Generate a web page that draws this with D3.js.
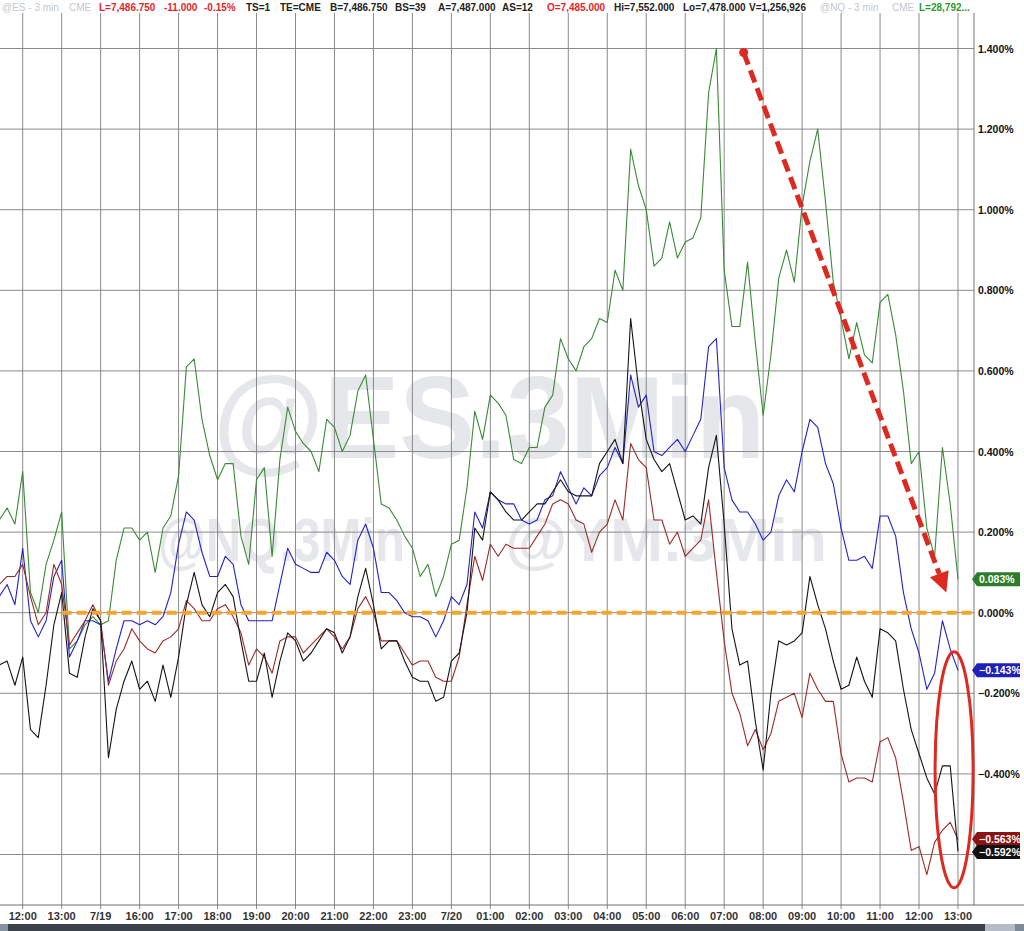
<!DOCTYPE html>
<html lang="en">
<head>
<meta charset="UTF-8">
<title>@ES / @NQ 3 min</title>
<script src="https://d3js.org/d3.v7.min.js"></script>
<style>
    body {
        margin: 0;
        background: #fff;
        font-family: Arial, "Liberation Sans", sans-serif;
    }
    svg { display: block; }
</style>
</head>
<body>

<div id="container"></div>

<script>
// hour ticks along the bottom (equally spaced, session gap collapsed)
const tickLabels = ['12:00','13:00','7/19','16:00','17:00','18:00','19:00','20:00','21:00','22:00',
    '23:00','7/20','01:00','02:00','03:00','04:00','05:00','06:00','07:00','08:00','09:00',
    '10:00','11:00','12:00','13:00'];

// percent gridlines on the right
const pctTicks = [1.4, 1.2, 1.0, 0.8, 0.6, 0.4, 0.2, 0, -0.2, -0.4, -0.6];

// readings every 0.2 h, starting 0.6 h before the first tick
const tStart = -0.6, tStep = 0.2;

const greenVals = [0.23, 0.26, 0.22,
    0.35, 0.05, 0.00, 0.12, 0.18,
    0.25, -0.09, -0.07, -0.03, -0.01,
    -0.03, -0.02, 0.13, 0.21, 0.21,
    0.18, 0.20, 0.10, 0.21, 0.24,
    0.34, 0.61, 0.63, 0.48, 0.39,
    0.33, 0.37, 0.37, 0.19, 0.12,
    0.33, 0.36, 0.14, 0.38, 0.51,
    0.45, 0.42, 0.40, 0.35, 0.48,
    0.46, 0.40, 0.44, 0.55, 0.59,
    0.43, 0.27, 0.26, 0.23, 0.19,
    0.16, 0.09, 0.12, 0.04, 0.09,
    0.17, 0.18, 0.31, 0.50, 0.43,
    0.54, 0.52, 0.49, 0.38, 0.37,
    0.41, 0.41, 0.51, 0.54, 0.68,
    0.63, 0.60, 0.66, 0.68, 0.73,
    0.72, 0.85, 0.80, 1.15, 1.06,
    1.00, 0.86, 0.88, 0.97, 0.88,
    0.92, 0.93, 0.98, 1.29, 1.40,
    0.85, 0.71, 0.71, 0.87, 0.67,
    0.49, 0.64, 0.83, 0.90, 0.82,
    1.01, 1.12, 1.20, 1.02, 0.82,
    0.73, 0.63, 0.72, 0.64, 0.62,
    0.77, 0.79, 0.69, 0.55, 0.37,
    0.40, 0.21, 0.14, 0.41, 0.27,
    0.083];

const blueVals = [0.04, 0.07, 0.02,
    0.16, -0.02, -0.06, -0.02, 0.09,
    0.13, -0.11, -0.07, -0.02, -0.02,
    -0.03, -0.17, -0.09, -0.02, -0.02,
    -0.03, -0.02, -0.03, -0.01, 0.05,
    0.17, 0.25, 0.23, 0.15, 0.09,
    0.09, 0.14, 0.12, 0.02, -0.02,
    -0.02, -0.02, -0.02, 0.07, 0.16,
    0.12, 0.11, 0.10, 0.10, 0.15,
    0.13, 0.09, 0.07, 0.18, 0.22,
    0.16, 0.05, 0.05, 0.03, 0.00,
    -0.01, -0.01, -0.02, -0.06, -0.02,
    0.04, 0.02, 0.07, 0.25, 0.21,
    0.30, 0.28, 0.27, 0.27, 0.23,
    0.22, 0.23, 0.28, 0.29, 0.35,
    0.31, 0.27, 0.31, 0.29, 0.34,
    0.36, 0.41, 0.37, 0.59, 0.51,
    0.54, 0.40, 0.39, 0.41, 0.43,
    0.40, 0.44, 0.48, 0.66, 0.68,
    0.36, 0.28, 0.25, 0.25, 0.22,
    0.18, 0.20, 0.29, 0.33, 0.30,
    0.40, 0.48, 0.46, 0.37, 0.32,
    0.21, 0.13, 0.13, 0.14, 0.11,
    0.24, 0.24, 0.19, 0.05, -0.04,
    -0.10, -0.19, -0.15, -0.02, -0.09,
    -0.143];

const redVals = [0.07, 0.09, 0.09,
    0.12, 0.04, -0.03, 0.00, 0.12,
    0.07, -0.08, -0.05, -0.02, 0.02,
    -0.02, -0.18, -0.12, -0.09, -0.04,
    -0.07, -0.09, -0.10, -0.07, -0.06,
    -0.04, 0.03, 0.01, -0.02, -0.02,
    0.01, 0.02, -0.01, -0.05, -0.13,
    -0.09, -0.11, -0.15, -0.07, -0.06,
    -0.06, -0.10, -0.08, -0.06, -0.04,
    -0.06, -0.09, -0.06, 0.01, 0.04,
    0.00, -0.07, -0.07, -0.07, -0.10,
    -0.13, -0.12, -0.12, -0.16, -0.17,
    -0.17, -0.11, 0.02, 0.14, 0.08,
    0.17, 0.14, 0.17, 0.16, 0.16,
    0.16, 0.19, 0.22, 0.27, 0.28,
    0.27, 0.23, 0.22, 0.15, 0.20,
    0.22, 0.28, 0.23, 0.42, 0.38,
    0.36, 0.23, 0.23, 0.17, 0.20,
    0.14, 0.16, 0.18, 0.28, 0.10,
    -0.07, -0.20, -0.25, -0.33, -0.29,
    -0.34, -0.30, -0.22, -0.21, -0.20,
    -0.26, -0.15, -0.19, -0.22, -0.22,
    -0.35, -0.42, -0.41, -0.41, -0.42,
    -0.32, -0.31, -0.36, -0.47, -0.59,
    -0.58, -0.65, -0.57, -0.54, -0.52,
    -0.563];

const blackVals = [-0.13, -0.12, -0.18,
    -0.11, -0.29, -0.31, -0.18, -0.03,
    0.05, -0.15, -0.16, -0.06, 0.01,
    -0.02, -0.36, -0.24, -0.17, -0.12,
    -0.19, -0.17, -0.22, -0.13, -0.21,
    -0.11, 0.02, 0.10, 0.02, -0.01,
    0.05, 0.07, 0.04, -0.07, -0.17,
    -0.17, -0.10, -0.21, -0.12, -0.05,
    -0.07, -0.12, -0.10, -0.07, -0.04,
    -0.05, -0.10, -0.06, 0.04, 0.11,
    0.02, -0.09, -0.07, -0.07, -0.12,
    -0.16, -0.17, -0.17, -0.22, -0.21,
    -0.12, -0.10, 0.00, 0.21, 0.18,
    0.30, 0.28, 0.25, 0.23, 0.23,
    0.25, 0.27, 0.27, 0.30, 0.33,
    0.30, 0.29, 0.29, 0.29, 0.37,
    0.40, 0.43, 0.37, 0.73, 0.56,
    0.43, 0.38, 0.35, 0.37, 0.30,
    0.23, 0.24, 0.22, 0.36, 0.44,
    0.22, -0.04, -0.13, -0.12, -0.27,
    -0.39, -0.20, -0.07, -0.08, -0.07,
    -0.05, 0.09, 0.02, -0.04, -0.12,
    -0.19, -0.18, -0.11, -0.17, -0.21,
    -0.04, -0.05, -0.07, -0.19, -0.29,
    -0.35, -0.41, -0.45, -0.38, -0.38,
    -0.592];

const seriesColors = ['#3a8a36', '#2323c4', '#9a2c28', '#141414'];
const labelColors = ['#2b7d2b', '#2020b8', '#8a1212', '#101010'];

// header quote strip
const headerItems = [
    [2, '@ES - 3 min', '#c3c7cf', 'normal'], [69, 'CME', '#c3c7cf', 'normal'],
    [99, 'L=7,486.750', '#e0282a', 'bold'], [164, '-11.000', '#e0282a', 'bold'],
    [204, '-0.15%', '#e0282a', 'bold'], [246, 'TS=1', '#222', 'bold'],
    [280, 'TE=CME', '#222', 'bold'], [330, 'B=7,486.750', '#222', 'bold'],
    [395, 'BS=39', '#222', 'bold'], [438, 'A=7,487.000', '#222', 'bold'],
    [502, 'AS=12', '#222', 'bold'], [547, 'O=7,485.000', '#e0282a', 'bold'],
    [614, 'Hi=7,552.000', '#222', 'bold'], [683, 'Lo=7,478.000', '#222', 'bold'],
    [749, 'V=1,256,926', '#222', 'bold'], [820, '@NQ - 3 min', '#c3c7cf', 'normal'],
    [892, 'CME', '#c3c7cf', 'normal'], [919, 'L=28,792...', '#2e9a2e', 'bold']
];

const width = 1024, height = 931;
const plotRight = 974, plotTop = 13, axisY = 905;

const svg = d3.select('#container').append('svg')
    .attr('width', width)
    .attr('height', height)
    .style('font-family', 'Arial, "Liberation Sans", sans-serif');

const x = d3.scaleLinear().domain([0, 24]).range([22.7, 958]);
const y = d3.scaleLinear().domain([-0.6, 1.4]).range([854.5, 48.5]);

// watermarks
const wm = svg.append('g').attr('fill', '#e5e7eb').attr('font-weight', 'bold');
wm.append('text').attr('x', 213).attr('y', 458).attr('font-size', 116)
    .attr('textLength', 552).attr('lengthAdjust', 'spacingAndGlyphs').text('@ES.3Min');
wm.append('text').attr('x', 158).attr('y', 561).attr('font-size', 62)
    .attr('textLength', 247).attr('lengthAdjust', 'spacingAndGlyphs').text('@NQ.3Min');
wm.append('text').attr('x', 505).attr('y', 561).attr('font-size', 62)
    .attr('textLength', 322).attr('lengthAdjust', 'spacingAndGlyphs').text('@YM.3Min');

// grid
svg.selectAll('.vgrid')
    .data(tickLabels)
    .enter()
    .append('line')
    .attr('x1', (d, i) => x(i)).attr('x2', (d, i) => x(i))
    .attr('y1', plotTop).attr('y2', axisY + 4)
    .attr('stroke', '#8a8a8a').attr('stroke-width', 1);

svg.selectAll('.hgrid')
    .data(pctTicks)
    .enter()
    .append('line')
    .attr('x1', 0).attr('x2', plotRight)
    .attr('y1', d => y(d)).attr('y2', d => y(d))
    .attr('stroke', '#8a8a8a').attr('stroke-width', 1);

// right border + bottom axis line
svg.append('line').attr('x1', plotRight).attr('x2', plotRight)
    .attr('y1', plotTop).attr('y2', axisY).attr('stroke', '#777');
svg.append('line').attr('x1', 0).attr('x2', width)
    .attr('y1', axisY).attr('y2', axisY).attr('stroke', '#6f6f6f');

// series
svg.append('clipPath').attr('id', 'plotclip')
    .append('rect').attr('x', 0).attr('y', plotTop)
    .attr('width', plotRight).attr('height', axisY - plotTop);

const line = d3.line()
    .x((d, i) => x(tStart + i * tStep))
    .y(d => y(d));

const allSeries = [greenVals, blueVals, redVals, blackVals];
svg.append('g').attr('clip-path', 'url(#plotclip)')
    .selectAll('path')
    .data(allSeries)
    .enter()
    .append('path')
    .attr('d', d => line(d))
    .attr('fill', 'none')
    .attr('stroke', (d, i) => seriesColors[i])
    .attr('stroke-width', 1.1)
    .attr('stroke-linejoin', 'round');

// orange dashed zero line, from 13:00 onward
svg.append('line')
    .attr('x1', x(1)).attr('x2', plotRight)
    .attr('y1', y(0)).attr('y2', y(0))
    .attr('stroke', '#f3a532').attr('stroke-width', 4)
    .attr('stroke-dasharray', '10,5');

// red dashed arrow annotation
const arrowFrom = [18.5, 1.39], arrowTo = [23.7, 0.05];
const ax1 = x(arrowFrom[0]), ay1 = y(arrowFrom[1]);
const ax2 = x(arrowTo[0]), ay2 = y(arrowTo[1]);
const len = Math.hypot(ax2 - ax1, ay2 - ay1);
const ux = (ax2 - ax1) / len, uy = (ay2 - ay1) / len;
const headLen = 20, headHalf = 10;
const red = '#dc2a20';

svg.append('line')
    .attr('x1', ax1).attr('y1', ay1)
    .attr('x2', ax2 - ux * headLen).attr('y2', ay2 - uy * headLen)
    .attr('stroke', red).attr('stroke-width', 5)
    .attr('stroke-dasharray', '13,6');
svg.append('circle').attr('cx', ax1).attr('cy', ay1).attr('r', 4.5).attr('fill', red);
const bx = ax2 - ux * headLen, by = ay2 - uy * headLen;
svg.append('path')
    .attr('d', `M${ax2},${ay2} L${bx - uy * headHalf},${by + ux * headHalf} L${bx + uy * headHalf},${by - ux * headHalf} Z`)
    .attr('fill', red);

// red ellipse around the close
const ringCenter = [23.9, -0.39];
svg.append('ellipse')
    .attr('cx', x(ringCenter[0])).attr('cy', y(ringCenter[1]))
    .attr('rx', 19).attr('ry', 118)
    .attr('fill', 'none').attr('stroke', red).attr('stroke-width', 3);

// right axis labels
svg.selectAll('.ylab')
    .data(pctTicks.filter(d => d > -0.5))
    .enter()
    .append('text')
    .attr('x', 978)
    .attr('y', d => y(d) + 4)
    .attr('font-size', 10.5)
    .attr('font-weight', 'bold')
    .attr('fill', '#111')
    .text(d => d3.format('.3f')(d) + '%');

// last value tags
const lastVals = allSeries.map(s => s[s.length - 1]);
let tagY = lastVals.map(v => y(v));
// keep the two bottom tags from overlapping
const order = d3.range(tagY.length).sort((a, b) => tagY[a] - tagY[b]);
for (let k = 1; k < order.length; k++) {
    const a = order[k - 1], b = order[k];
    if (tagY[b] - tagY[a] < 13) {
        const mid = (tagY[a] + tagY[b]) / 2;
        tagY[a] = mid - 6.5; tagY[b] = mid + 6.5;
    }
}
const tags = svg.selectAll('.tag')
    .data(lastVals)
    .enter()
    .append('g')
    .attr('transform', (d, i) => `translate(0,${tagY[i]})`);
tags.append('path')
    .attr('d', 'M972,0 L977,-7 L1020,-7 L1020,7 L977,7 Z')
    .attr('fill', (d, i) => labelColors[i]);
tags.append('text')
    .attr('x', 979).attr('y', 4)
    .attr('font-size', 10.5).attr('font-weight', 'bold')
    .attr('fill', '#fff')
    .text(d => d3.format('.3f')(d) + '%');

// bottom tick labels
svg.selectAll('.xlab')
    .data(tickLabels)
    .enter()
    .append('text')
    .attr('x', (d, i) => x(i))
    .attr('y', 920)
    .attr('text-anchor', 'middle')
    .attr('font-size', 11)
    .attr('font-weight', 'bold')
    .attr('fill', '#333')
    .text(d => d);

// scrollbar strip
svg.append('rect').attr('x', 0).attr('y', 924).attr('width', 8).attr('height', 7).attr('fill', '#8793a3');
svg.append('rect').attr('x', 8).attr('y', 924).attr('width', 977).attr('height', 7).attr('fill', '#3b424b');
svg.append('rect').attr('x', 985).attr('y', 924).attr('width', 30).attr('height', 7).attr('fill', '#b4bcc7');
svg.append('rect').attr('x', 1015).attr('y', 924).attr('width', 9).attr('height', 7).attr('fill', '#7d8999');

// header strip
svg.append('rect').attr('x', 0).attr('y', 0).attr('width', plotRight).attr('height', plotTop).attr('fill', '#fff');
svg.selectAll('.hdr')
    .data(headerItems)
    .enter()
    .append('text')
    .attr('x', d => d[0])
    .attr('y', 11)
    .attr('font-size', 10)
    .attr('font-weight', d => d[3])
    .attr('fill', d => d[2])
    .text(d => d[1]);
</script>
</body>
</html>
